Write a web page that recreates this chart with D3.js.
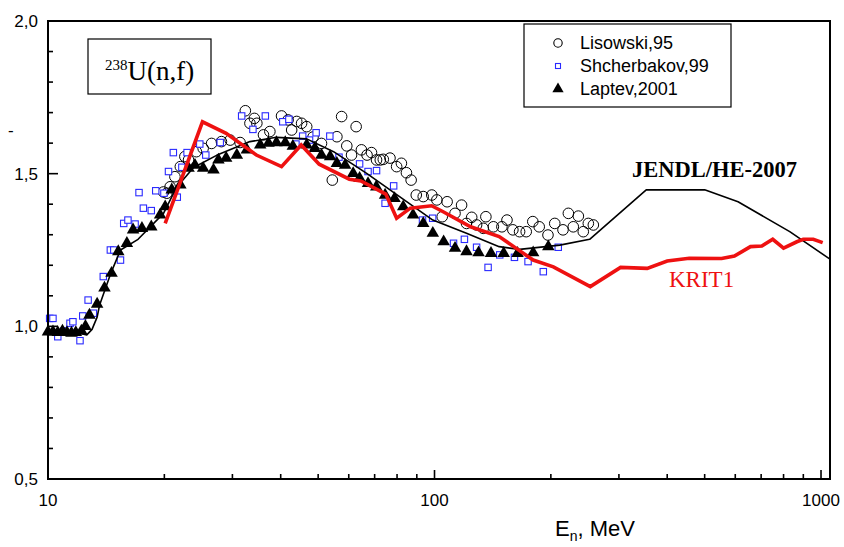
<!DOCTYPE html>
<html>
<head>
<meta charset="utf-8">
<script src="https://cdn.jsdelivr.net/npm/d3@7"></script>
<style>
  html, body { margin: 0; padding: 0; background: #fff; }
  svg { display: block; }
</style>
</head>
<body>
<svg id="chart" width="844" height="547"></svg>
<script>
// Relative fission cross section of 238U(n,f) vs neutron energy (MeV)

// Lisowski,95 — open circles
const lisowski = [
  [19.9,1.44],[20.3,1.436],[20.7,1.457],[21.3,1.49],[22.0,1.523],[22.6,1.556],[23.1,1.545],
  [24.2,1.572],[25.2,1.583],[26.5,1.599],[28.1,1.605],[29.6,1.61],[31.4,1.602],[32.4,1.706],
  [33.3,1.665],[34.2,1.681],[34.7,1.665],[36.1,1.627],[37.5,1.638],[40.2,1.689],[41.8,1.676],
  [42.7,1.643],[44.0,1.671],[45.3,1.665],[46.7,1.654],[48.5,1.62],[51,1.599],[54.4,1.479],
  [55.9,1.621],[57.5,1.687],[59.3,1.591],[61,1.561],[62.7,1.654],[64.7,1.578],[66.9,1.561],
  [68.7,1.569],[70.8,1.545],[72.4,1.545],[73.7,1.547],[76.7,1.551],[79.8,1.523],[82.1,1.534],
  [84.6,1.503],[87,1.479],[89.7,1.43],[93.5,1.425],[98.4,1.43],[101.4,1.414],[104.7,1.359],
  [107.8,1.408],[113,1.37],[117.5,1.397],[121,1.337],[124.8,1.357],[128.5,1.332],[133.7,1.321],
  [135.8,1.359],[142,1.326],[149.4,1.326],[154,1.348],[159.5,1.316],[166,1.31],[172.7,1.31],
  [179.6,1.343],[186.6,1.326],[196.6,1.299],[204.7,1.337],[215,1.316],[222,1.37],[228.6,1.326],
  [235.6,1.361],[242.6,1.31],[250,1.337],[257.6,1.332]
];

// Shcherbakov,99 — open blue squares
const shcherbakov = [
  [10.1,1.026],[10.3,1.026],[10.6,0.966],[11.0,0.985],[11.4,1.01],[11.6,1.015],[12.1,0.953],
  [12.3,1.034],[12.7,1.086],[13.1,1.043],[13.9,1.163],[14.5,1.25],[14.8,1.25],[15.4,1.217],
  [15.7,1.337],[16.1,1.348],[16.8,1.335],[17.2,1.438],[17.65,1.387],[18.5,1.379],[19.0,1.444],
  [19.95,1.436],[20.5,1.507],[21.1,1.569],[21.6,1.423],[22.2,1.521],[22.9,1.569],[24.7,1.597],
  [25.6,1.561],[27.9,1.602],[31.7,1.689],[33.9,1.645],[36.5,1.689],[40.5,1.67],[42,1.678],
  [43.8,1.597],[45.6,1.623],[47.5,1.61],[49.4,1.634],[53.6,1.623],[56.6,1.554],[64,1.532],
  [67.3,1.507],[70.8,1.51],[74.5,1.403],[78.4,1.46],[93.1,1.348],[98.9,1.354],[112,1.272],
  [119.5,1.285],[128.5,1.259],[137.6,1.193],[147.5,1.234],[161,1.226],[174.6,1.212],
  [191.2,1.179],[209,1.259]
];

// Laptev,2001 — filled triangles
const laptev = [
  [10.0,0.982],[10.3,0.982],[10.6,0.98],[10.9,0.985],[11.2,0.98],[11.5,0.978],[11.8,0.98],
  [12.2,0.985],[12.5,1.0],[12.8,1.037],[13.4,1.073],[14.0,1.126],[14.6,1.174],[15.2,1.245],
  [16.0,1.272],[16.6,1.316],[17.5,1.321],[18.5,1.326],[19.5,1.365],[20.1,1.392],[20.9,1.447],
  [22.0,1.463],[23.1,1.518],[24.0,1.528],[25.2,1.518],[26.8,1.512],[27.6,1.545],[28.9,1.551],
  [30.8,1.561],[32.7,1.578],[35.4,1.594],[37.2,1.6],[39.0,1.602],[41.1,1.602],[43.0,1.59],
  [46.7,1.594],[49.0,1.583],[51.0,1.561],[53.7,1.556],[55.9,1.534],[58.7,1.528],[61.6,1.501],
  [64.0,1.485],[67.3,1.468],[70.7,1.457],[74.5,1.43],[78.8,1.419],[83,1.392],[88,1.365],
  [93.5,1.337],[99,1.305],[105.6,1.277],[113,1.256],[121,1.245],[130,1.241],[140,1.239],
  [151,1.239],[164,1.239],[180,1.241],[197,1.261]
];

// JENDL/HE-2007 evaluation — thin black line
const jendl = [
  [10,0.985],[11,0.983],[12,0.978],[12.6,0.972],[13.0,0.99],[13.4,1.03],[13.6,1.07],
  [14.5,1.17],[15.4,1.25],[17.1,1.285],[19.9,1.37],[21.5,1.455],[23.8,1.52],[27.3,1.56],
  [33.3,1.605],[39,1.619],[46.7,1.614],[54.8,1.572],[66.9,1.50],[81.2,1.425],[99,1.348],
  [121,1.305],[147,1.261],[166,1.252],[211,1.266],[252,1.285],[353,1.447],[500,1.447],
  [610,1.408],[830,1.31],[1055,1.22]
];

// KRIT1 calculation — thick red line
const krit1 = [
  [20.1,1.337],[25.1,1.670],[28.9,1.632],[34.6,1.561],[40.2,1.523],[45.2,1.594],[50.3,1.531],
  [60.2,1.482],[64.5,1.476],[74.8,1.433],[79.8,1.354],[86.6,1.387],[98.3,1.395],[105,1.376],
  [124,1.326],[147,1.294],[180,1.217],[203,1.195],[253,1.130],[303,1.193],[355,1.190],
  [400,1.214],[456,1.223],[553,1.222],[597,1.23],[657,1.261],[703,1.263],[750,1.285],
  [800,1.256],[866,1.277],[900,1.285],[955,1.285],[1010,1.274]
];

const xMajorTicks = [10, 100, 1000];
const xTickLabels = ["10", "100", "1000"];
const xMinorTicks = [20,30,40,50,60,70,80,90,200,300,400,500,600,700,800,900];
const yMajorTicks = [0.5, 1.0, 1.5, 2.0];
const yTickLabels = ["0,5", "1,0", "1,5", "2,0"];
const yMinorTicks = [0.6,0.7,0.8,0.9,1.1,1.2,1.3,1.4,1.6,1.7,1.8,1.9];
const legendNames = ["Lisowski,95", "Shcherbakov,99", "Laptev,2001"];

const svg = d3.select("#chart");
const plotL = 48, plotR = 830, plotT = 21, plotB = 479;

const x = d3.scaleLog().domain([10, 1055]).range([plotL, plotR]);
const y = d3.scaleLinear().domain([0.5, 2.0]).range([plotB, plotT]);

const blue = "#2a2aff";
const red = "#ee1111";

// data markers
const gData = svg.append("g");

gData.selectAll("circle.lis").data(lisowski).enter().append("circle")
  .attr("cx", d => x(d[0])).attr("cy", d => y(d[1])).attr("r", 5.3)
  .attr("fill", "none").attr("stroke", "#000").attr("stroke-width", 1);

gData.selectAll("rect.sh").data(shcherbakov).enter().append("rect")
  .attr("x", d => x(d[0]) - 3.2).attr("y", d => y(d[1]) - 3.2)
  .attr("width", 6.4).attr("height", 6.4)
  .attr("fill", "#fff").attr("stroke", blue).attr("stroke-width", 1.1);

const tri = d3.symbol().type(d3.symbolTriangle).size(68);
gData.selectAll("path.lap").data(laptev).enter().append("path")
  .attr("d", tri)
  .attr("transform", d => `translate(${x(d[0])},${y(d[1])})`)
  .attr("fill", "#000");

// evaluation curves
const line = d3.line().x(d => x(d[0])).y(d => y(d[1]));
svg.append("clipPath").attr("id", "plotclip")
  .append("rect").attr("x", plotL).attr("y", plotT)
  .attr("width", plotR - plotL).attr("height", plotB - plotT);

svg.append("path").datum(jendl).attr("d", line)
  .attr("clip-path", "url(#plotclip)")
  .attr("fill", "none").attr("stroke", "#000").attr("stroke-width", 1.6)
  .attr("stroke-linejoin", "round");

svg.append("path").datum(krit1).attr("d", line)
  .attr("fill", "none").attr("stroke", red).attr("stroke-width", 3.6)
  .attr("stroke-linejoin", "miter");

// frame
svg.append("rect").attr("x", plotL).attr("y", plotT)
  .attr("width", plotR - plotL).attr("height", plotB - plotT)
  .attr("fill", "none").attr("stroke", "#000").attr("stroke-width", 2);

// ticks (pointing inward)
const gAxes = svg.append("g").attr("stroke", "#000").attr("stroke-width", 1.6);
gAxes.selectAll("line.xmaj").data(xMajorTicks).enter().append("line")
  .attr("x1", d => x(d)).attr("x2", d => x(d))
  .attr("y1", plotB).attr("y2", plotB - 9);
gAxes.selectAll("line.xmin").data(xMinorTicks).enter().append("line")
  .attr("x1", d => x(d)).attr("x2", d => x(d))
  .attr("y1", plotB).attr("y2", plotB - 5);
gAxes.selectAll("line.ymaj").data(yMajorTicks).enter().append("line")
  .attr("x1", plotL).attr("x2", plotL + 10)
  .attr("y1", d => y(d)).attr("y2", d => y(d));
gAxes.selectAll("line.ymin").data(yMinorTicks).enter().append("line")
  .attr("x1", plotL).attr("x2", plotL + 5)
  .attr("y1", d => y(d)).attr("y2", d => y(d));

// tick labels
const font = "Arial, 'Liberation Sans', sans-serif";
svg.selectAll("text.xl").data(xMajorTicks).enter().append("text")
  .attr("x", d => x(d)).attr("y", 506)
  .attr("text-anchor", "middle")
  .attr("font-family", font).attr("font-size", 17)
  .text((d, i) => xTickLabels[i]);

svg.selectAll("text.yl").data(yMajorTicks).enter().append("text")
  .attr("x", 38).attr("y", d => y(d) + 6)
  .attr("text-anchor", "end")
  .attr("font-family", font).attr("font-size", 17)
  .text((d, i) => yTickLabels[i]);

svg.append("text").attr("x", 8).attr("y", 136)
  .attr("font-family", font).attr("font-size", 17).text("-");

// x-axis title
const xt = svg.append("text").attr("x", 555).attr("y", 536)
  .attr("font-family", font).attr("font-size", 22);
xt.append("tspan").text("E");
xt.append("tspan").attr("dy", 5).attr("font-size", 14).text("n");
xt.append("tspan").attr("dy", -5).text(", MeV");

// reaction label box
svg.append("rect").attr("x", 88).attr("y", 39).attr("width", 123).attr("height", 55)
  .attr("fill", "#fff").attr("stroke", "#000").attr("stroke-width", 1.2);
const rl = svg.append("text").attr("x", 105).attr("y", 80)
  .attr("font-family", "'Liberation Serif', 'Times New Roman', serif").attr("font-size", 27);
rl.append("tspan").attr("dy", -10).attr("font-size", 15).text("238");
rl.append("tspan").attr("dy", 10).text("U(n,f)");

// legend
svg.append("rect").attr("x", 524).attr("y", 24).attr("width", 207).attr("height", 83)
  .attr("fill", "#fff").attr("stroke", "#000").attr("stroke-width", 1.2);
const legY = [43, 66, 89];
svg.append("circle").attr("cx", 558).attr("cy", legY[0]).attr("r", 4.2)
  .attr("fill", "none").attr("stroke", "#000").attr("stroke-width", 1.1);
svg.append("rect").attr("x", 555.5).attr("y", legY[1] - 2.5).attr("width", 5).attr("height", 5)
  .attr("fill", "none").attr("stroke", blue).attr("stroke-width", 1.1);
svg.append("path").attr("d", d3.symbol().type(d3.symbolTriangle).size(55))
  .attr("transform", `translate(558,${legY[2]})`).attr("fill", "#000");
svg.selectAll("text.leg").data(legendNames).enter().append("text")
  .attr("x", 580).attr("y", (d, i) => legY[i] + 6)
  .attr("font-family", font).attr("font-size", 18)
  .text(d => d);

// curve labels
svg.append("text").attr("x", 632).attr("y", 177)
  .attr("font-family", "'Liberation Serif', 'Times New Roman', serif")
  .attr("font-weight", "bold").attr("font-size", 22.5)
  .text("JENDL/HE-2007");
svg.append("text").attr("x", 669).attr("y", 287)
  .attr("font-family", "'Liberation Serif', 'Times New Roman', serif")
  .attr("font-size", 23).attr("fill", red)
  .text("KRIT1");
</script>
</body>
</html>
